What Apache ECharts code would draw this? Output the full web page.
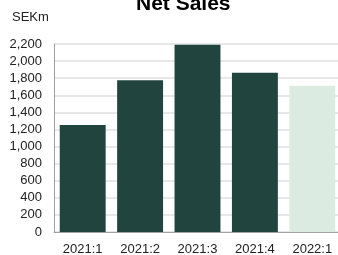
<!DOCTYPE html>
<html><head><meta charset="utf-8">
<script src="https://cdn.jsdelivr.net/npm/echarts@6/dist/echarts.min.js"></script>
<style>html,body{margin:0;padding:0;background:#fff}#c{width:338px;height:255px}</style>
</head><body><div id="c"></div>
<script>
const categories = ["2021:1","2021:2","2021:3","2021:4","2022:1"];
const netSales = [1252, 1775, 2192, 1865, 1712];
const yTicks = [0, 200, 400, 600, 800, 1000, 1200, 1400, 1600, 1800, 2000, 2200];
const title = "Net Sales";
const unit = "SEKm";

const dark = "#22443f", light = "#dcebe2";
const chart = echarts.init(document.getElementById('c'), null, {renderer:'canvas'});
chart.setOption({
  animation:false,
  backgroundColor:'#fff',
  title:{text:title, left:131, top:-11, textStyle:{fontFamily:'Liberation Sans', fontSize:21, fontWeight:'bold', color:'#000'}},
  graphic:[{type:'text', left:12, top:11, style:{text:unit, font:'13px "Liberation Sans"', fill:'#222'}}],
  grid:{left:54, right:-3, top:44, bottom:23, containLabel:false, outerBoundsMode:'none'},
  xAxis:{type:'category', data:categories,
    axisLine:{show:true, lineStyle:{color:'#a0a0a0', width:1}},
    axisTick:{show:false},
    axisLabel:{fontFamily:'Liberation Sans', fontSize:13, color:'#222', margin:11}},
  yAxis:{type:'value', min:yTicks[0], max:yTicks[yTicks.length-1], interval:200,
    axisLine:{show:true, lineStyle:{color:'#a0a0a0', width:1}},
    axisTick:{show:false},
    splitLine:{lineStyle:{color:'#e0e0e0', width:1.5}},
    axisLabel:{fontFamily:'Liberation Sans', fontSize:13, color:'#222', margin:12,
      formatter:v=>v.toLocaleString('en-US')}},
  series:[{type:'bar', data:netSales.map((v,i)=>({value:v, itemStyle:{color: i===netSales.length-1?light:dark}})),
    barCategoryGap:'20%'}]
});
</script></body></html>
